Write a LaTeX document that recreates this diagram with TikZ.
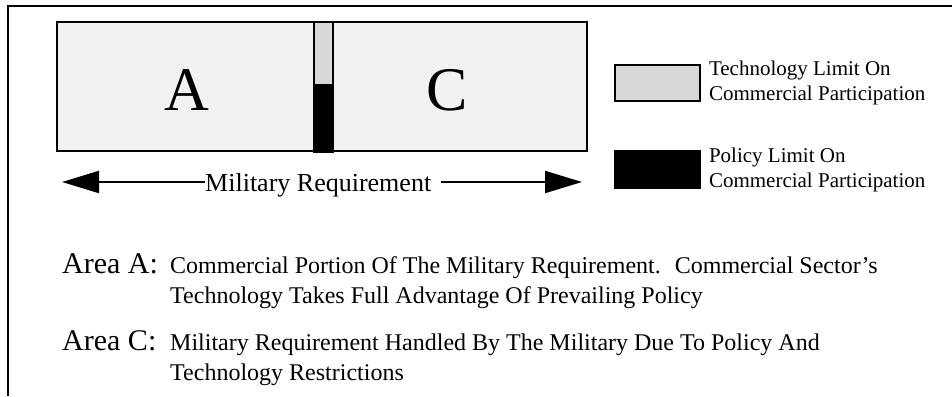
\documentclass[tikz,border=0pt]{standalone}
\usepackage{fontspec}
\setmainfont{Liberation Serif}
\usetikzlibrary{positioning,arrows.meta}
\definecolor{mrPanel}{RGB}{242,242,242}
\definecolor{mrTech}{RGB}{216,216,216}
\definecolor{mrInk}{RGB}{0,0,0}
\tikzset{
    base/.style={inner sep=0pt, text=mrInk},
    panel/.style={base, rectangle, draw=mrInk, line width=1.6pt, fill=mrPanel},
    techbar/.style={base, rectangle, draw=mrInk, line width=1.6pt, fill=mrTech},
    policybar/.style={base, rectangle, draw=mrInk, line width=1.6pt, fill=mrInk},
    letter/.style={base, font=\fontsize{62}{62}\selectfont},
    legend/.style={base, align=left, font=\fontsize{21}{25}\selectfont},
    reach/.style={line width=2pt, color=mrInk, -{Triangle[length=37pt, width=22pt]}},
    areahead/.style={base, font=\fontsize{30}{30}\selectfont},
    areatext/.style={base, font=\fontsize{24}{30}\selectfont},
    frame/.style={line width=2pt, color=mrInk}
}

\begin{document}
\begin{tikzpicture}[x=1pt, y=-1pt]
  \useasboundingbox (0,0) rectangle (952,396);

  % Frame
  \draw[frame] (8,396) -- (8,6) -- (952,6);

  % Nodes
  \node[panel, minimum width=530pt, minimum height=129pt] (panel) at (322,86.5) {};
  \node[techbar, minimum width=19pt, minimum height=63pt, anchor=north, xshift=1.5pt] (tech) at (panel.north) {};
  \node[policybar, minimum width=19pt, minimum height=66pt] (policy) [below=0pt of tech] {};
  \node[letter, anchor=base] (areaA) at (187,110) {A};
  \node[letter, anchor=base] (areaC) at (447,110) {C};

  \node[techbar, minimum width=85pt, minimum height=36pt] (techkey) at (657.5,83) {};
  \node[legend] (techtxt) [right=8pt of techkey] {Technology Limit On\\Commercial Participation};
  \node[policybar, minimum width=85pt, minimum height=37pt] (policykey) at (657.5,169.5) {};
  \node[legend] (policytxt) [right=8pt of policykey] {Policy Limit On\\Commercial Participation};

  \node[base, font=\fontsize{26}{26}\selectfont, anchor=base west] (reqlbl) at (205,191.5) {Military Requirement};
  \coordinate (reqL) at (62,182);
  \coordinate (reqR) at (582,182);
  \coordinate (reqgap) at ([xshift=10pt]reqlbl.east);

  \node[areahead, anchor=base west] (headA) at (62,273) {Area A:};
  \node[areatext, anchor=base west] (descA) at (170,273) {Commercial Portion Of The Military Requirement.~ Commercial Sector’s};
  \node[areatext, below=30pt of descA.base west, anchor=base west] (descA2) {Technology Takes Full Advantage Of Prevailing Policy};
  \node[areahead, anchor=base west] (headC) at (62,350) {Area C:};
  \node[areatext, anchor=base west] (descC) at (170,350) {Military Requirement Handled By The Military Due To Policy And};
  \node[areatext, below=30pt of descC.base west, anchor=base west] (descC2) {Technology Restrictions};

  % Edges
  \draw[reach] (reqL -| reqlbl.west) -- (reqL);
  \draw[reach] (reqgap |- reqR) -- (reqR);

\end{tikzpicture}
\end{document}
